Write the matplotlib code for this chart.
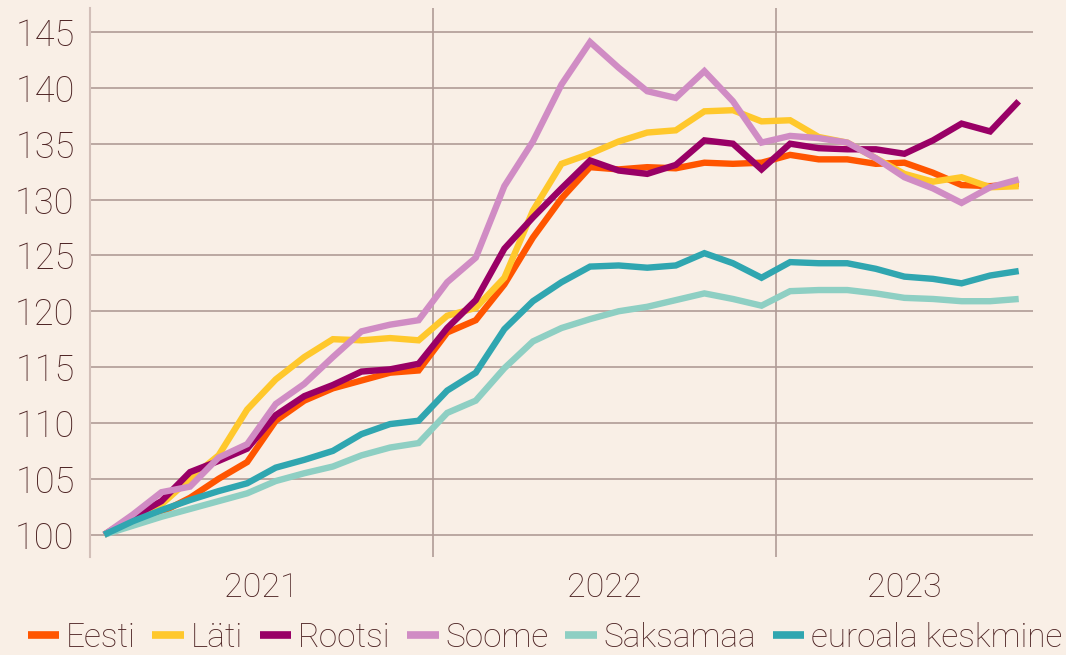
import matplotlib
matplotlib.use("Agg")
import matplotlib.pyplot as plt
from matplotlib.transforms import blended_transform_factory

# ---- data (index, 2021-01 = 100), monthly Jan 2021 .. Sep 2023 ----
years = ["2021", "2022", "2023"]
series_names = ["Eesti", "Läti", "Rootsi", "Soome", "Saksamaa", "euroala keskmine"]

eesti = [100, 101.3, 102.0, 103.3, 105.0, 106.5, 110.2, 112.0, 113.1, 113.8, 114.5, 114.7,
         118.1, 119.2, 122.4, 126.6, 130.1, 132.9, 132.7, 132.9, 132.8, 133.3, 133.2, 133.3,
         134.0, 133.6, 133.6, 133.2, 133.3, 132.4, 131.3, 131.2, 131.4]
lati = [100, 101.5, 102.7, 105.0, 107.1, 111.2, 113.9, 115.9, 117.5, 117.4, 117.6, 117.4,
        119.6, 120.3, 123.0, 129.0, 133.2, 134.1, 135.2, 136.0, 136.2, 137.9, 138.0, 137.0,
        137.1, 135.6, 135.1, 133.7, 132.3, 131.6, 132.0, 131.1, 131.2]
rootsi = [100, 101.6, 103.0, 105.6, 106.6, 107.7, 110.7, 112.4, 113.4, 114.6, 114.8, 115.3,
          118.5, 121.0, 125.6, 128.4, 131.0, 133.5, 132.6, 132.3, 133.1, 135.3, 135.0, 132.7,
          135.0, 134.6, 134.5, 134.5, 134.1, 135.3, 136.8, 136.1, 138.8]
soome = [100, 101.8, 103.8, 104.3, 106.9, 108.1, 111.7, 113.5, 115.9, 118.2, 118.8, 119.2,
         122.6, 124.8, 131.2, 135.2, 140.3, 144.1, 141.8, 139.7, 139.1, 141.5, 138.8, 135.1,
         135.7, 135.5, 135.1, 133.7, 132.0, 131.0, 129.7, 131.1, 131.8]
saksamaa = [100, 100.8, 101.6, 102.3, 103.0, 103.7, 104.8, 105.5, 106.1, 107.1, 107.8, 108.2,
            110.9, 112.0, 114.9, 117.3, 118.5, 119.3, 120.0, 120.4, 121.0, 121.6, 121.1, 120.5,
            121.8, 121.9, 121.9, 121.6, 121.2, 121.1, 120.9, 120.9, 121.1]
euroala = [100, 101.2, 102.2, 103.1, 103.9, 104.6, 106.0, 106.7, 107.5, 109.0, 109.9, 110.2,
           112.9, 114.5, 118.4, 120.9, 122.6, 124.0, 124.1, 123.9, 124.1, 125.2, 124.3, 123.0,
           124.4, 124.3, 124.3, 123.8, 123.1, 122.9, 122.5, 123.2, 123.6]

all_series = [eesti, lati, rootsi, soome, saksamaa, euroala]
colors = ["#ff5500", "#ffc82c", "#990066", "#d08cc4", "#8ecfc3", "#30a6b0"]

BG = "#f9efe6"
TXT = "#4e2424"
GRID = "#b09c96"
SPINE = "#d2bfb8"

plt.rcParams["font.family"] = ["Roboto", "DejaVu Sans"]

fig = plt.figure(figsize=(10.66, 6.55), dpi=100, facecolor=BG)
ax = fig.add_axes([90 / 1066, 1 - 557 / 655, (1033 - 90) / 1066, (557 - 8) / 655])
ax.set_facecolor(BG)

x = list(range(len(eesti)))
for name, ys, c in zip(series_names, all_series, colors):
    ax.plot(x, ys, color=c, lw=4.6, label=name, solid_joinstyle="miter",
            solid_capstyle="butt", zorder=3)

ax.set_xlim(-0.5, 32.5)
ax.set_ylim(98, 147.15)
ax.set_yticks(range(100, 146, 5))
ax.set_xticks([])
ax.grid(axis="y", color=GRID, lw=1.2, zorder=1)
for b in [11.5, 23.5]:
    ax.axvline(b, color=GRID, lw=1.2, zorder=1)

for s in ["top", "right", "bottom"]:
    ax.spines[s].set_visible(False)
ax.spines["left"].set_color(SPINE)
ax.spines["left"].set_linewidth(1.5)

ax.tick_params(axis="y", length=0, pad=11, labelsize=26, labelcolor=TXT)
for lab in ax.get_yticklabels():
    lab.set_fontweight("light")

trans = blended_transform_factory(ax.transData, ax.transAxes)
for yr, xc in zip(years, [5.5, 17.5, 28.0]):
    ax.text(xc, -0.0729, yr, transform=trans, ha="center", va="baseline",
            fontsize=24.5, color=TXT, fontweight="light")

leg = fig.legend(loc="center", bbox_to_anchor=(545 / 1066, 1 - 638 / 655), ncol=6,
                 frameon=False, fontsize=24, handlelength=0.95, handletextpad=0.2,
                 columnspacing=0.5, borderpad=0, borderaxespad=0)
for t in leg.get_texts():
    t.set_color(TXT)
    t.set_fontweight("light")
for h in leg.get_lines():
    h.set_linewidth(5.5)

fig.savefig("out.png", dpi=100, facecolor=BG)
